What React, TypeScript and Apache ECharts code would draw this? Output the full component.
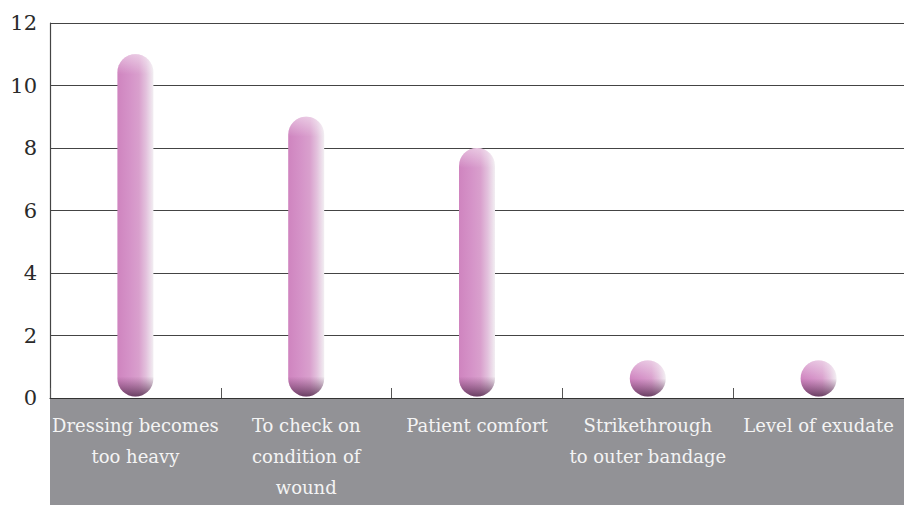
import React, { useEffect, useRef } from "react";
import * as echarts from "echarts";

const categories = [
  "Dressing becomes\ntoo heavy",
  "To check on\ncondition of\nwound",
  "Patient comfort",
  "Strikethrough\nto outer bandage",
  "Level of exudate",
];
const values = [11, 9, 8, 1, 1];
const yTicks = { min: 0, max: 12, interval: 2 };

const FONT = "DejaVu Serif";

export default function App() {
  const ref = useRef<HTMLDivElement>(null);
  useEffect(() => {
    if (!ref.current) return;
    const chart = echarts.init(ref.current, undefined, { renderer: "svg" });
    const BW = 36;
    chart.setOption({
      animation: false,
      backgroundColor: "#ffffff",
      grid: { left: 50, right: -6, top: 23, bottom: 108, containLabel: false },
      graphic: [
        {
          type: "rect",
          left: 50,
          top: 399,
          z: -10,
          shape: { width: 860, height: 106 },
          style: { fill: "#929296" },
        },
      ],
      xAxis: {
        type: "category",
        data: categories,
        axisLine: { show: true, lineStyle: { color: "#333", width: 1.2 } },
        axisTick: { show: true, inside: true, length: 10, lineStyle: { color: "#555" } },
        axisLabel: {
          color: "#f4f4f4",
          fontFamily: FONT,
          fontSize: 18,
          lineHeight: 31,
          margin: 12,
          interval: 0,
        },
      },
      yAxis: {
        type: "value",
        min: yTicks.min,
        max: yTicks.max,
        interval: yTicks.interval,
        axisLine: { show: true, lineStyle: { color: "#444", width: 1.2 } },
        axisTick: { show: false },
        axisLabel: { color: "#2a2a2a", fontFamily: FONT, fontSize: 21, margin: 13 },
        splitLine: { show: true, lineStyle: { color: "#444", width: 1 } },
      },
      series: [
        {
          type: "custom",
          data: values.map((v, i) => [i, v]),
          encode: { x: 0, y: 1 },
          renderItem: (params: any, api: any) => {
            const top = api.coord([api.value(0), api.value(1)]);
            const bot = api.coord([api.value(0), 0]);
            const x = top[0] - BW / 2;
            const yb = bot[1] - 1.5;
            const h = Math.max(yb - top[1], BW);
            const y = yb - h;
            const r = BW / 2;
            const capH = Math.min(20, h / 2);
            return {
              type: "group",
              children: [
                {
                  type: "rect",
                  shape: { x, y, width: BW, height: h, r },
                  style: {
                    fill: new echarts.graphic.LinearGradient(0, 0, 1, 0, [
                      { offset: 0, color: "#cf84bf" },
                      { offset: 0.35, color: "#d593c8" },
                      { offset: 0.6, color: "#d9a0cd" },
                      { offset: 0.8, color: "#e3c2dd" },
                      { offset: 1, color: "#f2eef2" },
                    ]),
                  },
                },
                {
                  type: "rect",
                  shape: { x, y, width: BW, height: capH, r: [r, r, 0, 0] },
                  style: {
                    fill: new echarts.graphic.LinearGradient(0, 0, 0, 1, [
                      { offset: 0, color: "rgba(255,255,255,0.45)" },
                      { offset: 1, color: "rgba(255,255,255,0)" },
                    ]),
                  },
                },
                {
                  type: "rect",
                  shape: { x, y: y + h - capH, width: BW, height: capH, r: [0, 0, r, r] },
                  style: {
                    fill: new echarts.graphic.LinearGradient(0, 0, 0, 1, [
                      { offset: 0, color: "rgba(90,40,80,0)" },
                      { offset: 1, color: "rgba(70,35,65,0.75)" },
                    ]),
                  },
                },
              ],
            };
          },
        },
      ],
    });
    return () => chart.dispose();
  }, []);
  return (
    <div
      ref={ref}
      style={{ position: "fixed", left: 0, top: 0, width: 904, height: 506 }}
    />
  );
}
